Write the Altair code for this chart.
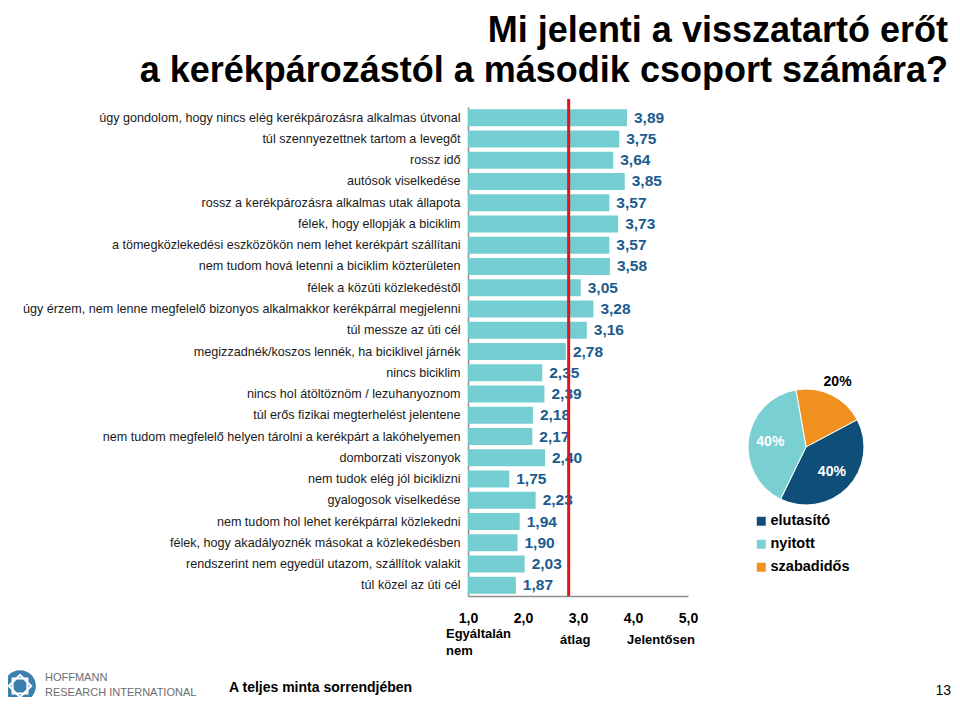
import altair as alt
import pandas as pd

# ---------------- data ----------------
categories = [
    "úgy gondolom, hogy nincs elég kerékpározásra alkalmas útvonal",
    "túl szennyezettnek tartom a levegőt",
    "rossz idő",
    "autósok viselkedése",
    "rossz a kerékpározásra alkalmas utak állapota",
    "félek, hogy ellopják a biciklim",
    "a tömegközlekedési eszközökön nem lehet kerékpárt szállítani",
    "nem tudom hová letenni a biciklim közterületen",
    "félek a közúti közlekedéstől",
    "úgy érzem, nem lenne megfelelő bizonyos alkalmakkor kerékpárral megjelenni",
    "túl messze az úti cél",
    "megizzadnék/koszos lennék, ha biciklivel járnék",
    "nincs biciklim",
    "nincs hol átöltöznöm / lezuhanyoznom",
    "túl erős fizikai megterhelést jelentene",
    "nem tudom megfelelő helyen tárolni a kerékpárt a lakóhelyemen",
    "domborzati viszonyok",
    "nem tudok elég jól biciklizni",
    "gyalogosok viselkedése",
    "nem tudom hol lehet kerékpárral közlekedni",
    "félek, hogy akadályoznék másokat a közlekedésben",
    "rendszerint nem egyedül utazom, szállítok valakit",
    "túl közel az úti cél",
]
scores = [3.89, 3.75, 3.64, 3.85, 3.57, 3.73, 3.57, 3.58, 3.05, 3.28, 3.16,
          2.78, 2.35, 2.39, 2.18, 2.17, 2.40, 1.75, 2.23, 1.94, 1.90, 2.03, 1.87]
mean_score = 2.83
x_ticks = [1, 2, 3, 4, 5]

pie_segments = ["szabadidős", "elutasító", "nyitott"]
pie_shares = [20, 40, 40]
pie_order = [0, 1, 2]
legend_order = ["elutasító", "nyitott", "szabadidős"]
legend_colors = ["#0F4E78", "#7ACFD3", "#F0901E"]

title_lines = ["Mi jelenti a visszatartó erőt",
               "a kerékpározástól a második csoport számára?"]

FONT = "Liberation Sans"
OX, OY = 468, 107  # plot origin on the page
W, H = 220, 489

bars_df = pd.DataFrame({"cat": categories, "score": scores})

y_enc = alt.Y(
    "cat:N", sort=categories,
    scale=alt.Scale(paddingInner=0.2, paddingOuter=0.1),
    axis=alt.Axis(title=None, labelFontSize=12.6, labelColor="#1a1a1a",
                  labelFont=FONT, labelLimit=600, ticks=False,
                  domainColor="#8c8c8c", domainWidth=1.5, labelPadding=8),
)

bars = alt.Chart(bars_df).mark_bar(color="#74CDD1").encode(
    y=y_enc,
    x=alt.X("score:Q", scale=alt.Scale(domain=[1, 5], nice=False, zero=False),
            axis=alt.Axis(title=None, values=x_ticks,
                          labelExpr="replace(format(datum.value, '.1f'), '.', ',')",
                          labelFontSize=14, labelFontWeight="bold", labelFont=FONT,
                          labelColor="black", ticks=False, grid=False,
                          labelFlush=False, domainColor="#8c8c8c",
                          domainWidth=1.5, labelPadding=15)),
    x2=alt.datum(1),
)

values = alt.Chart(bars_df).transform_calculate(
    lbl="replace(format(datum.score, '.2f'), '.', ',')"
).mark_text(align="left", baseline="middle", dx=7, fontSize=15.5,
            fontWeight="bold", color="#1B5B8E", font=FONT).encode(
    y=alt.Y("cat:N", sort=categories),
    x=alt.X("score:Q", title=None),
    text="lbl:N",
)

rule = alt.Chart(pd.DataFrame({"m": [mean_score]})).mark_rule(
    color="#E3121B", strokeWidth=3
).encode(x=alt.X("m:Q", title=None), y=alt.value(-8), y2=alt.value(H))

pie_df = pd.DataFrame({"seg": pie_segments, "share": pie_shares, "ord": pie_order})
theta_scale = alt.Scale(domain=[0, 100], range=[6.109, 12.392])
PCX, PCY = 806 - OX, 447 - OY

arc = alt.Chart(pie_df).mark_arc(radius=58, stroke="white", strokeWidth=1).encode(
    theta=alt.Theta("share:Q", stack=True, scale=theta_scale),
    order=alt.Order("ord:Q"),
    color=alt.Color("seg:N",
                    scale=alt.Scale(domain=legend_order, range=legend_colors),
                    legend=alt.Legend(title=None, orient="none",
                                      legendX=754 - OX, legendY=514 - OY,
                                      symbolType="square", symbolSize=80,
                                      symbolStrokeWidth=0,
                                      labelFontSize=14.5, labelFontWeight="bold",
                                      labelFont=FONT, labelColor="black",
                                      rowPadding=8, labelOffset=2)),
    x=alt.value(PCX), y=alt.value(PCY),
)

pie_text = alt.Chart(pie_df).transform_window(
    cum="sum(share)", sort=[alt.SortField("ord")], frame=[None, 0]
).transform_calculate(
    mid="datum.cum - datum.share / 2",
    lbl="datum.share + '%'",
    r="datum.seg == 'szabadidős' ? 72 : 36",
).mark_text(fontSize=14, fontWeight="bold", font=FONT).encode(
    theta=alt.Theta("mid:Q", stack=None, scale=theta_scale),
    radius=alt.Radius("r:Q", scale=None),
    text="lbl:N",
    color=alt.condition("datum.seg == 'szabadidős'", alt.value("black"), alt.value("white")),
    x=alt.value(PCX), y=alt.value(PCY),
)


def label(txt, x, y, size, weight="normal", align="left", color="black",
          baseline="middle"):
    return alt.Chart(pd.DataFrame({"t": [txt]})).mark_text(
        align=align, baseline=baseline, fontSize=size, fontWeight=weight,
        color=color, font=FONT
    ).encode(text="t:N", x=alt.value(x - OX), y=alt.value(y - OY))


annotations = [
    label(title_lines[0], 948, 42, 36, "bold", "right", baseline="alphabetic"),
    label(title_lines[1], 948, 82, 36, "bold", "right", baseline="alphabetic"),
    label("Egyáltalán", 446, 634, 13, "bold"),
    label("nem", 446, 651, 13, "bold"),
    label("átlag", 560, 640, 13, "bold"),
    label("Jelentősen", 627, 640, 13, "bold"),
    label("A teljes minta sorrendjében", 229, 688, 14, "bold"),
    label("13", 951, 691, 14, "normal", "right"),
    label("HOFFMANN", 45, 678, 11, "normal", color="#6d6d6d"),
    label("RESEARCH INTERNATIONAL", 45, 693, 11, "normal", color="#6d6d6d"),
]

logo_df = pd.DataFrame({"k": ["logo"]})
logo = alt.layer(
    alt.Chart(logo_df).mark_point(shape="circle", filled=True, size=1000,
                                  color="#3B7FAE", opacity=1).encode(
        x=alt.value(20 - OX), y=alt.value(686 - OY)),
    alt.Chart(logo_df).mark_point(shape="diamond", filled=False, size=500,
                                  color="white", strokeWidth=2, opacity=1).encode(
        x=alt.value(20 - OX), y=alt.value(686 - OY)),
    alt.Chart(logo_df).mark_point(shape="square", filled=False, size=220,
                                  color="white", strokeWidth=2, opacity=1).encode(
        x=alt.value(20 - OX), y=alt.value(686 - OY)),
)

chart = alt.layer(
    bars, values, rule, arc, pie_text, logo, *annotations
).properties(
    width=W, height=H,
    autosize=alt.AutoSizeParams(type="none"),
    padding={"left": 460, "top": 99, "right": 264, "bottom": 101},
    background="white",
).configure_view(stroke=None)

chart.save("out.html", embed_options={"renderer": "svg", "actions": False})
